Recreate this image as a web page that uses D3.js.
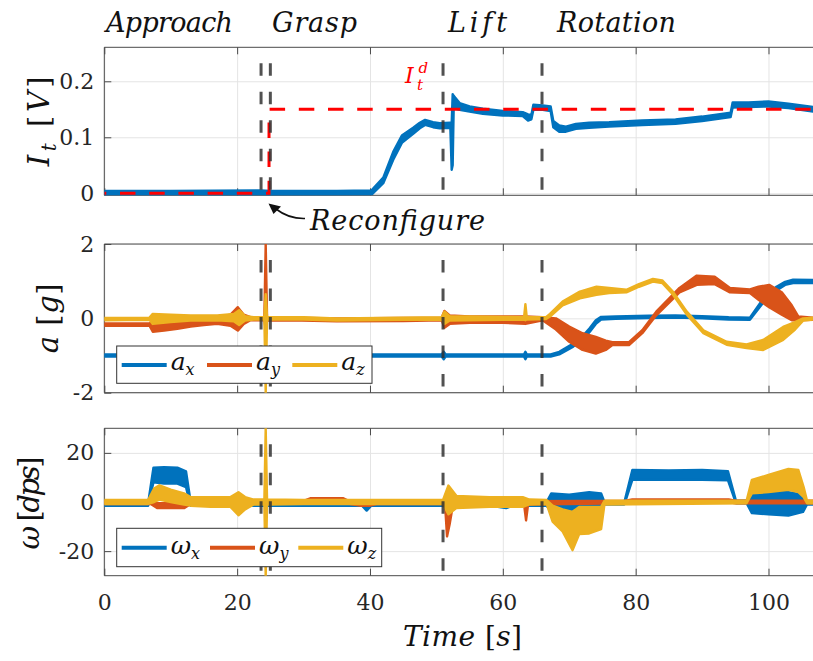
<!DOCTYPE html>
<html>
<head>
<meta charset="utf-8">
<script src="https://cdn.jsdelivr.net/npm/d3@7"></script>
<style>
  body { margin: 0; background: #fff; }
  svg { display: block; }
  .grid line { stroke: #e4e4e4; stroke-width: 1; }
  .grid path { display: none; }
  .ax path { display: none; }
  .ax line { stroke: #4a4a4a; }
  .ax text { fill: #262626; font-size: 22px; }
</style>
</head>
<body>
<svg id="chart" width="813" height="661" font-family="'DejaVu Serif', 'Liberation Serif', serif"></svg>
<script>
// ---- data: [time, low edge, high edge] ----
const xTicks = [0, 20, 40, 60, 80, 100];
const itTicks = [0, 0.1, 0.2];
const aTicks = [-2, 0, 2];
const wTicks = [-20, 0, 20];
const phaseNames = ["Approach", "Grasp", "Lift", "Rotation"];
const eventTimes = [23.6, 25.0, 51.0, 65.9];
const aNames = ["x", "y", "z"];

// desired current I_t^d (step)
const itDesired = [[0, 0], [24.8, 0], [24.8, 0.15], [106.7, 0.15]];

const itBand = [
  [0, -0.004, 0.004], [10, -0.004, 0.004], [23.6, -0.004, 0.005], [25, -0.005, 0.004],
  [35, -0.004, 0.004], [40.2, -0.003, 0.005], [42, 0.018, 0.028], [43.5, 0.06, 0.074],
  [44.8, 0.09, 0.103], [46.5, 0.106, 0.117], [47.5, 0.116, 0.126], [48.3, 0.122, 0.131],
  [49.5, 0.118, 0.127], [50.5, 0.116, 0.125], [52.1, 0.117, 0.126], [52.3, 0.042, 0.125],
  [52.45, 0.05, 0.177], [52.6, 0.152, 0.174], [53.5, 0.149, 0.161], [55, 0.146, 0.155],
  [57, 0.142, 0.151], [60, 0.139, 0.147], [63, 0.138, 0.145], [63.8, 0.13, 0.141],
  [64.3, 0.132, 0.14], [64.6, 0.149, 0.158], [66, 0.149, 0.157], [67.2, 0.147, 0.155],
  [67.6, 0.118, 0.129], [68.5, 0.11, 0.121], [69.5, 0.11, 0.119], [71, 0.115, 0.124],
  [73, 0.117, 0.126], [76, 0.119, 0.127], [81, 0.122, 0.13], [86, 0.124, 0.132],
  [90, 0.129, 0.137], [94.3, 0.136, 0.144], [94.6, 0.153, 0.162], [97, 0.154, 0.162],
  [100, 0.155, 0.164], [103, 0.152, 0.16], [106.7, 0.146, 0.154]
];

const axBand = [
  [0, -1.03, -0.97], [50.8, -1.03, -0.97], [51.1, -1.1, -0.9], [51.4, -1.03, -0.97],
  [63.2, -1.03, -0.97], [63.4, -1.1, -0.9], [63.6, -1.03, -0.97], [67.2, -1.03, -0.97],
  [68.5, -0.97, -0.9], [70.6, -0.76, -0.68], [72, -0.58, -0.48], [73.1, -0.36, -0.26],
  [74, -0.15, -0.05], [74.8, -0.03, 0.04], [77, -0.01, 0.05], [82, 0.01, 0.07],
  [86, 0.02, 0.08], [90, 0.0, 0.06], [94, -0.03, 0.03], [97.2, -0.04, 0.02],
  [99.1, 0.4, 0.5], [101.2, 0.75, 0.85], [102.5, 0.9, 0.98], [103.7, 0.95, 1.04],
  [106.7, 0.95, 1.03]
];

const ayBand = [
  [0, -0.2, -0.14], [6.8, -0.2, -0.14], [7.3, -0.36, -0.06], [9, -0.33, -0.05],
  [11, -0.28, -0.04], [13, -0.22, 0.0], [15, -0.18, 0.02], [17, -0.15, 0.03],
  [19, -0.2, 0.1], [20.1, -0.33, 0.3], [21, -0.15, 0.1], [22, -0.05, 0.03],
  [24.1, -0.05, 0.03], [24.3, -0.3, 2.0], [24.5, -0.06, 0.04], [28, -0.05, 0.02],
  [35, -0.08, 0.0], [45, -0.07, 0.01], [50.8, -0.05, 0.02], [51.2, -0.25, 0.2],
  [52, -0.15, 0.08], [55, -0.12, 0.05], [60, -0.12, 0.05], [63.4, -0.15, 0.05],
  [66, -0.05, 0.03], [68, -0.3, 0.0], [70, -0.63, -0.22], [72, -0.85, -0.4],
  [74, -0.95, -0.5], [75.5, -0.85, -0.6], [76.5, -0.72, -0.64], [79, -0.72, -0.64],
  [81, -0.4, -0.32], [83.1, 0.08, 0.18], [86.6, 0.7, 0.82], [89.2, 0.9, 1.15],
  [91.9, 0.92, 1.12], [94.2, 0.7, 0.82], [97.2, 0.68, 0.78], [98.5, 0.5, 0.85],
  [100.1, 0.3, 0.9], [102, 0.1, 0.7], [103.5, -0.05, 0.35], [104.5, -0.05, 0.05],
  [106.7, -0.04, 0.02]
];

const azBand = [
  [0, -0.05, 0.01], [6.8, -0.04, 0.02], [7.3, -0.15, 0.12], [10, -0.1, 0.1],
  [13, -0.06, 0.08], [17, -0.05, 0.08], [19.5, -0.08, 0.12], [20.3, -0.18, 0.22],
  [21.2, -0.06, 0.06], [22.5, -0.03, 0.03], [24.1, -0.03, 0.03], [24.3, -2.0, 0.65],
  [24.5, -0.03, 0.04], [30, -0.03, 0.03], [35, -0.06, 0.0], [45, -0.04, 0.02],
  [50.8, -0.03, 0.03], [51.2, -0.15, 0.18], [52, -0.06, 0.06], [60, -0.04, 0.04],
  [63.2, -0.03, 0.03], [63.4, -0.05, 0.38], [63.6, -0.03, 0.03], [66.5, -0.02, 0.03],
  [67.1, 0.05, 0.12], [69, 0.35, 0.45], [71.6, 0.54, 0.72], [74.1, 0.63, 0.85],
  [76, 0.68, 0.82], [78.6, 0.7, 0.77], [80.5, 0.85, 0.92], [82.6, 0.99, 1.06],
  [84, 0.95, 1.02], [85.6, 0.64, 0.72], [87.7, 0.1, 0.18], [90.2, -0.4, -0.32],
  [93.7, -0.71, -0.63], [96.7, -0.8, -0.7], [99.2, -0.85, -0.58], [102.2, -0.58, -0.23],
  [104, -0.3, -0.1], [105.2, -0.06, 0.0], [106.7, -0.03, 0.02]
];

const wxBand = [
  [0, -1.5, -0.5], [6.6, -1.5, -0.5], [7.4, 8, 14], [9, 7.5, 14.2], [11, 7.5, 14],
  [12.3, 6, 12.5], [13, -1.5, 0], [23.5, -1.5, -0.5], [38.8, -1.5, -0.5], [39.5, -3.5, -1],
  [40.2, -1.5, -0.5], [51, -1.5, -0.5], [52, -2, 3.5], [53, -1.5, 0.5], [58, -1.5, 0],
  [60.5, -2.5, -0.5], [61.5, -1.5, 0], [66.6, -1.5, 0], [67.3, -4, 3.5], [70, -4, 3],
  [73, -4, 4], [74.8, -3.5, 3.5], [75.3, -1, 0], [78.3, -1, 0], [79.5, 9, 13],
  [85, 9, 12.8], [90, 9, 13], [93.9, 8.8, 12.5], [95.1, -0.5, 0.5], [96.7, -0.5, 0.5],
  [97.5, -4.5, 3.5], [100, -5, 4], [103, -5.5, 4], [105.2, -4, 3], [105.8, -1, 0],
  [106.7, -1, 0]
];

const wyBand = [
  [0, -0.8, 0.2], [7, -0.8, 0.2], [8, -2.5, -0.5], [12, -2.5, -0.5], [13, -0.8, 0.2],
  [30, -0.5, 0.5], [31, 0.2, 1.5], [36, 0.2, 1.5], [37, -0.8, 0.2], [38.5, -1.5, 0],
  [40, -1.5, 0], [41, -0.8, 0.2], [51.3, -0.8, 0.2], [51.6, -14, -1], [52, -9, 0],
  [52.5, -1, 0.5], [63.2, -1, 0.5], [63.5, -7.5, -1], [63.8, -1, 0.3], [78.5, -0.5, 0.5],
  [79.5, 0, 1], [94, 0, 1], [95, -0.5, 0.5], [106.7, -0.5, 0.5]
];

const wzBand = [
  [0, -0.8, 0.8], [6.6, -0.8, 0.8], [7.5, 0, 5.5], [8.3, 1, 6.8], [10, 0, 5],
  [12, -1, 3.5], [13, -1.5, 2], [16, -2, 2], [19, -2, 2], [20.2, -5.4, 4],
  [21.2, -3, 2], [22.5, -1, 1], [24.1, -1, 1], [24.3, -30, 30], [24.5, -1, 1],
  [30, -0.8, 0.8], [51, -0.8, 0.8], [51.8, -5, 6.7], [53, -2.5, 2.5], [58, -2, 2],
  [63, -2, 2], [64, -1, 1], [66.6, -0.8, 0.8], [67.5, -8, -1.5], [69, -12, -3],
  [70.5, -19.6, -4], [71.5, -13, -2], [73, -12.8, -2], [74.8, -11, -2], [75.3, -1, 0.5],
  [96.7, -0.5, 0.5], [97.5, 3.5, 9], [100, 4, 11], [103, 5, 13.5], [104.5, 4, 13],
  [105.3, 2, 6], [105.8, -0.5, 0.5], [106.7, -0.5, 0.5]
];

const colors = ["#0072BD", "#D95319", "#EDB120"];

// ---- layout ----
const left = 104.3, right = 813;
const svg = d3.select("#chart");
const x = d3.scaleLinear().domain([0, 106.7]).range([left, right]);

const panels = [
  { top: 47.3, bottom: 195.3, domain: [-0.0036, 0.2607], ticks: itTicks, bands: [itBand] },
  { top: 244, bottom: 392.7, domain: [-2, 2], ticks: aTicks, bands: [axBand, ayBand, azBand] },
  { top: 428.3, bottom: 575.7, domain: [-30, 30], ticks: wTicks, bands: [wxBand, wyBand, wzBand] }
];

panels.forEach((p, i) => {
  const y = d3.scaleLinear().domain(p.domain).range([p.bottom, p.top]);
  const g = svg.append("g");

  // grid
  g.append("g").attr("class", "grid")
    .attr("transform", `translate(0,${p.bottom})`)
    .call(d3.axisBottom(x).tickValues(xTicks).tickSize(-(p.bottom - p.top)).tickFormat(""));
  g.append("g").attr("class", "grid")
    .attr("transform", `translate(${left},0)`)
    .call(d3.axisLeft(y).tickValues(p.ticks).tickSize(-(right - left)).tickFormat(""));

  // box lines (left, top, bottom) - right side is off the page
  g.append("path")
    .attr("d", `M${right},${p.top}H${left}V${p.bottom}H${right}`)
    .attr("fill", "none").attr("stroke", "#4a4a4a").attr("stroke-width", 1);

  // ticks
  g.append("g").attr("class", "ax")
    .attr("transform", `translate(${left},0)`)
    .call(d3.axisLeft(y).tickValues(p.ticks).tickSizeInner(-7).tickSizeOuter(0)
      .tickPadding(10).tickFormat(d => String(d)))
    .attr("font-family", null);
  g.append("g").attr("class", "ax")
    .attr("transform", `translate(0,${p.top})`)
    .call(d3.axisTop(x).tickValues(xTicks).tickSizeInner(-7).tickSizeOuter(0).tickFormat(""));
  g.append("g").attr("class", "ax")
    .attr("transform", `translate(0,${p.bottom})`)
    .call(d3.axisBottom(x).tickValues(xTicks).tickSizeInner(-7).tickSizeOuter(0)
      .tickPadding(18.5).tickFormat(i === 2 ? d => String(d) : ""))
    .attr("font-family", null);

  // clip
  const cid = "clip" + i;
  svg.append("clipPath").attr("id", cid).append("rect")
    .attr("x", left).attr("y", p.top).attr("width", right - left).attr("height", p.bottom - p.top);
  const plot = g.append("g").attr("clip-path", `url(#${cid})`);

  const area = d3.area()
    .x(d => x(d[0])).y0(d => y(d[1])).y1(d => y(d[2]));
  p.bands.forEach((b, k) => {
    plot.append("path").datum(b)
      .attr("d", area)
      .attr("fill", colors[k]).attr("stroke", colors[k])
      .attr("stroke-width", 2.4).attr("stroke-linejoin", "round");
  });

  if (i === 0) {
    plot.append("path").datum(itDesired)
      .attr("d", d3.line().x(d => x(d[0])).y(d => y(d[1])))
      .attr("fill", "none").attr("stroke", "#ff0000").attr("stroke-width", 3)
      .attr("stroke-dasharray", "15.5,13.7").attr("stroke-dashoffset", 13.5);
  }

  // event lines
  plot.selectAll("line.ev").data(eventTimes).enter().append("line")
    .attr("class", "ev")
    .attr("x1", d => x(d)).attr("x2", d => x(d))
    .attr("y1", p.top).attr("y2", p.bottom)
    .attr("stroke", "#333").attr("stroke-opacity", 0.85).attr("stroke-width", 3)
    .attr("stroke-dasharray", "12.5,16").attr("stroke-dashoffset", 12.5);
});

// ---- text ----
// phase labels
const phaseX = [106, 272, 448, 557];
const phaseW = [127, 85, 59, 119];
svg.selectAll("text.phase").data(phaseNames).enter().append("text")
  .attr("class", "phase")
  .attr("x", (d, i) => phaseX[i]).attr("y", 32)
  .attr("font-size", 27).attr("font-style", "italic").attr("fill", "#111")
  .attr("textLength", (d, i) => phaseW[i]).attr("lengthAdjust", "spacing")
  .text(d => d);

// I_t^d label
const lab = svg.append("text").attr("fill", "#ff0000").attr("font-style", "italic");
lab.append("tspan").attr("x", 405).attr("y", 83.3).attr("font-size", 22).text("I");
lab.append("tspan").attr("x", 418.5).attr("y", 72.5).attr("font-size", 15).text("d");
lab.append("tspan").attr("x", 417).attr("y", 90).attr("font-size", 15).text("t");

// Reconfigure annotation
svg.append("text").attr("x", 310).attr("y", 230)
  .attr("font-size", 27).attr("font-style", "italic").attr("fill", "#111")
  .attr("textLength", 175).attr("lengthAdjust", "spacing")
  .text("Reconfigure");
svg.append("path").attr("d", "M305,218.5 Q289,219 276,209")
  .attr("fill", "none").attr("stroke", "#111").attr("stroke-width", 1.6);
svg.append("path").attr("d", "M268.5,203.5 L281,206.5 L273.5,214 Z").attr("fill", "#111");

// y labels
function yLabel(xb, yc, len, parts) {
  const t = svg.append("text")
    .attr("transform", `translate(${xb},${yc}) rotate(-90)`)
    .attr("text-anchor", "middle").attr("font-size", 29).attr("fill", "#111")
    .attr("textLength", len).attr("lengthAdjust", "spacing");
  parts.forEach(pt => {
    const s = t.append("tspan").text(pt.s);
    if (pt.it) s.attr("font-style", "italic");
    if (pt.dy) s.attr("dy", pt.dy);
    if (pt.fs) s.attr("font-size", pt.fs);
  });
}
yLabel(49, 121.3, 90, [
  { s: "I", it: 1 }, { s: "t", it: 1, dy: 7, fs: 20 }, { s: " [", dy: -7 }, { s: "V", it: 1 }, { s: "]" }
]);
yLabel(58, 318.3, 70, [
  { s: "a", it: 1 }, { s: " [" }, { s: "g", it: 1 }, { s: "]" }
]);
yLabel(38.5, 503, 93, [
  { s: "\u03C9", it: 1 }, { s: " [" }, { s: "dps", it: 1 }, { s: "]" }
]);

// x label
const xl = svg.append("text").attr("x", 403).attr("y", 646)
  .attr("font-size", 28).attr("fill", "#111")
  .attr("textLength", 119).attr("lengthAdjust", "spacing");
xl.append("tspan").attr("font-style", "italic").text("Time");
xl.append("tspan").text(" [");
xl.append("tspan").attr("font-style", "italic").text("s");
xl.append("tspan").text("]");

// legends
function legend(bx, by, bw, bh, x0, step, ly, tb, sym) {
  const g = svg.append("g");
  g.append("rect").attr("x", bx).attr("y", by).attr("width", bw).attr("height", bh)
    .attr("fill", "#fff").attr("stroke", "#333").attr("stroke-width", 1);
  aNames.forEach((n, k) => {
    const lx = x0 + k * step;
    g.append("line").attr("x1", lx).attr("x2", lx + 45).attr("y1", ly).attr("y2", ly)
      .attr("stroke", colors[k]).attr("stroke-width", 4);
    const t = g.append("text").attr("x", lx + 49).attr("y", tb).attr("fill", "#111");
    t.append("tspan").attr("font-style", "italic").attr("font-size", 25).text(sym);
    t.append("tspan").attr("font-style", "italic").attr("font-size", 16).attr("dy", 5).text(n);
  });
}
legend(116.7, 346, 255.3, 37.3, 121.7, 85.3, 365, 370, "a");
legend(116.7, 528.3, 265, 38.4, 121.7, 88.3, 547.7, 554, "\u03C9");
</script>
</body>
</html>
